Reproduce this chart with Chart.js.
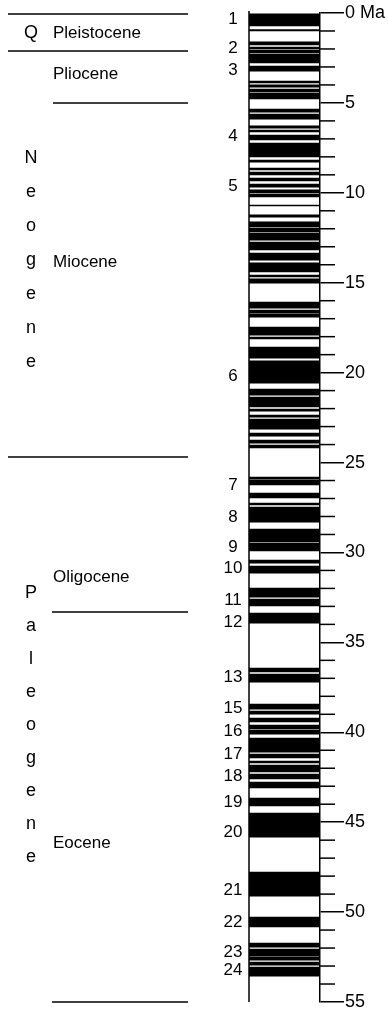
<!DOCTYPE html>
<html><head><meta charset="utf-8">
<script src="https://cdn.jsdelivr.net/npm/chart.js@4.4.1/dist/chart.umd.min.js"></script>
<style>html,body{margin:0;padding:0;background:#fff}#wrap{position:relative;width:388px;height:1012px}</style>
</head><body><div id="wrap"><canvas id="c"></canvas></div>
<script>
// Normal-polarity intervals (Ma)
const normalStart = [0.00,0.92,1.61,1.89,2.06,2.28,2.95,3.78,4.00,4.23,4.45,5.34,5.62,6.28,6.51,6.79,7.23,8.18,8.62,8.84,9.18,9.51,9.84,10.07,10.68,11.23,11.62,11.96,12.24,12.74,13.35,13.90,14.57,14.79,16.07,16.52,16.74,17.46,18.02,18.58,19.35,20.91,21.36,22.02,22.36,22.58,23.36,23.75,24.03,25.81,25.97,26.70,27.25,27.47,28.70,29.48,30.42,30.76,31.98,32.59,33.37,36.43,36.76,38.43,38.82,39.21,39.60,39.88,40.32,41.21,41.60,41.82,42.32,42.77,43.66,44.49,47.78,50.28,51.72,52.06,52.50,52.78,53.06];
const normalEnd   = [0.72,1.00,1.78,2.00,2.22,2.78,3.23,3.89,4.12,4.39,4.78,5.51,5.90,6.40,6.62,7.06,8.01,8.29,8.73,9.01,9.34,9.68,10.01,10.23,10.73,11.35,11.90,12.18,12.63,13.18,13.74,14.40,14.68,15.02,16.41,16.69,16.91,17.91,18.13,19.19,20.58,21.25,21.91,22.14,22.47,23.14,23.53,23.92,24.19,25.92,26.25,26.97,27.36,28.31,29.42,29.92,30.59,31.15,32.48,32.98,33.93,36.65,37.21,38.71,38.99,39.43,39.82,40.10,41.10,41.43,41.71,42.21,42.60,43.10,44.10,45.83,49.11,50.83,51.95,52.45,52.67,52.95,53.56];

const chronLabels    = ['1','2','3','4','5','6','7','8','9','10','11','12','13','15','16','17','18','19','20','21','22','23','24'];
const chronLabelAges = [0.36,1.95,3.17,6.84,9.62,20.19,26.25,28.03,29.70,30.86,32.64,33.87,36.93,38.65,39.93,41.21,42.43,43.88,45.55,48.77,50.55,52.22,53.22];

const epochNames       = ['Pleistocene','Pliocene','Miocene','Oligocene','Eocene'];
const epochLabelAges   = [1.11,3.39,13.85,31.37,46.16];
const epochBoundaryAges = [0,2.11,5.0,24.69,33.31,55.0];

const periodNames = ['Q','Neogene','Paleogene'];

const axisMin = 0, axisMax = 55, majorStep = 5, minorStep = 1;
const axisUnit = 'Ma';

// ---- layout (pixels) ----
const boundaryLineX = [[8,188],[8,188],[53,188],[8,188],[52,188],[52,188]];
const FONT = '"Liberation Sans", Arial, Helvetica, sans-serif';

const decor = {
  id: 'decor',
  afterDraw(chart) {
    const ctx = chart.ctx, ys = chart.scales.y, a = chart.chartArea;
    ctx.save();
    ctx.strokeStyle = '#000';
    ctx.lineWidth = 1.5;
    for (let v = axisMin; v <= axisMax; v += minorStep) {
      if (v % majorStep === 0) continue;
      const py = ys.getPixelForValue(v);
      ctx.beginPath(); ctx.moveTo(a.right, py); ctx.lineTo(a.right + 15, py); ctx.stroke();
    }
    ctx.beginPath(); ctx.moveTo(a.left, a.top - 2); ctx.lineTo(a.left, a.bottom); ctx.stroke();
    epochBoundaryAges.forEach((age, i) => {
      const py = ys.getPixelForValue(age) + (i === 0 ? 1 : 0);
      ctx.beginPath(); ctx.moveTo(boundaryLineX[i][0], py); ctx.lineTo(boundaryLineX[i][1], py); ctx.stroke();
    });
    ctx.fillStyle = '#000';
    ctx.textBaseline = 'middle';
    ctx.font = '17px ' + FONT;
    ctx.textAlign = 'center';
    chronLabels.forEach((t, i) => ctx.fillText(t, 233, ys.getPixelForValue(chronLabelAges[i])));
    ctx.font = '17px ' + FONT;
    ctx.textAlign = 'left';
    epochNames.forEach((t, i) => ctx.fillText(t, 53, ys.getPixelForValue(epochLabelAges[i])));
    ctx.font = '18px ' + FONT;
    ctx.textAlign = 'center';
    ctx.fillText(periodNames[0], 31, ys.getPixelForValue(epochLabelAges[0]));
    periodNames[1].split('').forEach((ch, i) => ctx.fillText(ch, 31, 158 + i * 34));
    periodNames[2].split('').forEach((ch, i) => ctx.fillText(ch, 31, 593 + i * 33));
    ctx.restore();
  }
};

const bands = normalStart.map((s, i) => ({ x: 'col', y: [s, normalEnd[i]] }));

new Chart(document.getElementById('c'), {
  type: 'bar',
  data: {
    labels: ['col'],
    datasets: [{
      data: bands,
      backgroundColor: '#000',
      borderWidth: 0,
      borderSkipped: false,
      barPercentage: 1,
      categoryPercentage: 1
    }]
  },
  options: {
    responsive: true,
    maintainAspectRatio: false,
    animation: false,
    devicePixelRatio: 1,
    layout: { padding: { left: 249, top: 13, bottom: 10, right: 0 } },
    plugins: { legend: { display: false }, tooltip: { enabled: false } },
    scales: {
      x: { display: false, offset: true },
      y: {
        position: 'right',
        reverse: true,
        min: axisMin,
        max: axisMax,
        afterFit(scale) { scale.width = 68; },
        border: { display: true, color: '#000', width: 1.5 },
        grid: { display: true, drawOnChartArea: false, drawTicks: true, tickLength: 24, color: '#000', lineWidth: 1.5 },
        ticks: {
          stepSize: majorStep,
          padding: 1,
          color: '#000',
          font: { family: FONT, size: 18, lineHeight: 1 },
          callback: v => v === 0 ? '0 ' + axisUnit : String(v)
        }
      }
    }
  },
  plugins: [decor]
});
</script>
</body></html>
